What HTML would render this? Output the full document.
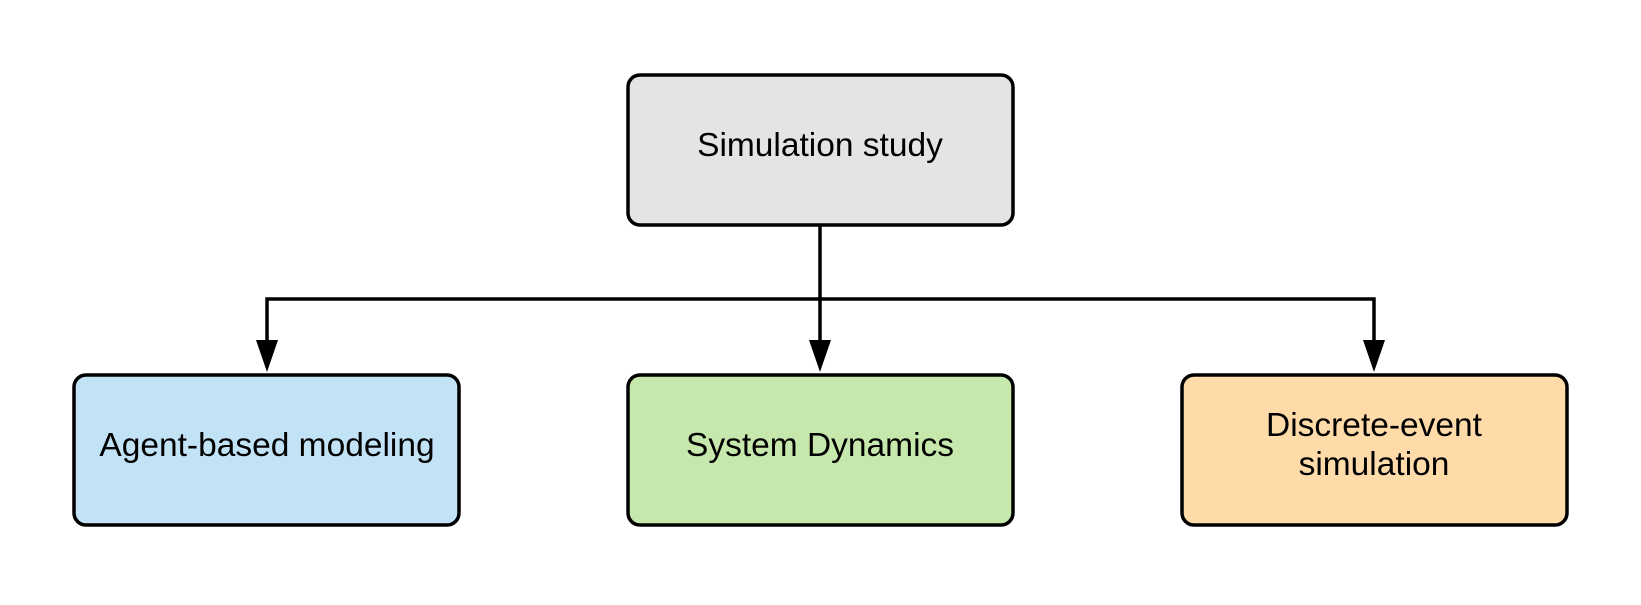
<!DOCTYPE html>
<html><head><style>
body{margin:0;background:#fff;}
svg text{font-family:"Liberation Sans",Arial,sans-serif;font-size:33.5px;fill:#000;}
</style></head><body>
<svg width="1641" height="600" viewBox="0 0 1641 600" xmlns="http://www.w3.org/2000/svg">
<g stroke="#000" stroke-width="3.5" fill="none">
<path d="M820 226 V359"/>
<path d="M267 359 V299 H1374 V359"/>
</g>
<g fill="#000">
<polygon points="256,340 278,340 267,372"/>
<polygon points="809,340 831,340 820,372"/>
<polygon points="1363,340 1385,340 1374,372"/>
</g>
<g stroke="#000" stroke-width="3.5">
<rect x="628" y="75" width="385" height="150" rx="12" fill="#e4e4e4"/>
<rect x="74" y="375" width="385" height="150" rx="12" fill="#c2e3f6"/>
<rect x="628" y="375" width="385" height="150" rx="12" fill="#c7e8ad"/>
<rect x="1182" y="375" width="385" height="150" rx="12" fill="#ffdba9"/>
</g>
<g text-anchor="middle">
<text x="820" y="156">Simulation study</text>
<text x="267" y="456">Agent-based modeling</text>
<text x="820" y="456">System Dynamics</text>
<text x="1374" y="436">Discrete-event</text>
<text x="1374" y="475">simulation</text>
</g>
</svg>
</body></html>
